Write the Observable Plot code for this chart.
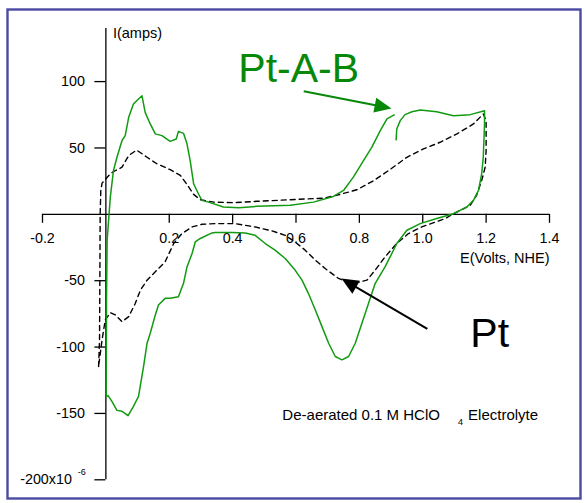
<!DOCTYPE html>
<html>
<head>
<meta charset="utf-8">
<script src="https://cdn.jsdelivr.net/npm/d3@7"></script>
<script src="https://cdn.jsdelivr.net/npm/@observablehq/plot@0.6"></script>
<style>
  html, body { margin: 0; padding: 0; background: #fff; }
</style>
</head>
<body>
<div id="chart"></div>
<script>
// Cyclic voltammograms (current in µA vs potential in V vs NHE)
// Pt-A-B electrode (solid green); NaN marks the break in the trace
const ptabE = [0.001, 0.002, 0.004, 0.014, 0.024, 0.035, 0.051, 0.061, 0.072, 0.087, 0.103, 0.114, 0.124, 0.140, 0.156, 0.177, 0.203, 0.222, 0.229, 0.245, 0.256, 0.266, 0.277, 0.292, 0.303, 0.329, 0.371, 0.420, 0.477, 0.582, 0.655, 0.718, 0.750, 0.781, 0.813, 0.839, 0.866, 0.887, 0.910, NaN,
  0.916, 0.918, 0.929, 0.944, 0.966, 0.992, 1.044, 1.097, 1.150, 1.195, 1.195, 1.191, 1.186, 1.176, 1.160, 1.139, 1.097, 1.044, 0.992, 0.950, 0.918, 0.897, 0.881, 0.850, 0.829, 0.808, 0.787, 0.766, 0.745, 0.724, 0.703, 0.682, 0.661, 0.639, 0.619, 0.597, 0.566, 0.534, 0.503, 0.471, 0.440, 0.398, 0.345, 0.335, 0.298, 0.282, 0.272, 0.256, 0.245, 0.229, 0.203, 0.187, 0.166, 0.156, 0.140, 0.130, 0.119, 0.103, 0.087, 0.070, 0.051, 0.035, 0.019, 0.007, 0.001];
const ptabI = [-137.2, -64, -19.5, 13.0, 33.0, 43.0, 55.6, 59.3, 73.1, 83.1, 86.9, 89.3, 76.8, 68.1, 60.6, 59.3, 55.0, 56.8, 62.5, 61.0, 53.1, 40.5, 23.0, 15.5, 10.5, 8.8, 5.5, 5.0, 6.0, 6.8, 9.2, 13.5, 18.0, 28.0, 40.5, 50.5, 63.1, 71.9, 74.9, NaN,
  56.1, 64.3, 70.6, 75.1, 77.3, 78.6, 77.3, 74.3, 75.1, 78.1, 68.1, 43.0, 30.6, 18.0, 10.5, 5.5, 0.5, -3.2, -7.0, -12.0, -22.0, -32.1, -39.6, -52.0, -67.0, -82.1, -97.1, -107.1, -109.6, -107.1, -97.1, -84.6, -72.1, -59.5, -49.6, -42.0, -33.3, -27.0, -22.0, -15.8, -14.0, -13.7, -13.7, -14.0, -18.2, -20.8, -29.5, -39.6, -52.0, -62.1, -63.3, -63.3, -68.3, -75.8, -89.6, -97.1, -114.6, -137.2, -144.7, -151.7, -148.4, -147.7, -140.9, -136.6, -137.2];

// Pt electrode (dashed black)
const ptE = [-0.023, -0.020, -0.019, -0.018, -0.016, -0.012, 0.014, 0.030, 0.051, 0.072, 0.097, 0.130, 0.161, 0.203, 0.235, 0.256, 0.277, 0.298, 0.340, 0.403, 0.477, 0.582, 0.687, 0.739, 0.792, 0.844, 0.897, 0.950, 1.002, 1.055, 1.108, 1.160, 1.191, 1.200, 1.200, 1.197, 1.186, 1.170, 1.150, 1.097, 1.071, 0.997, 0.955, 0.918, 0.881, 0.850, 0.824, 0.787, 0.755, 0.734, 0.692, 0.661, 0.629, 0.597, 0.566, 0.524, 0.471, 0.408, 0.345, 0.303, 0.272, 0.240, 0.214, 0.187, 0.156, 0.130, 0.109, 0.093, 0.072, 0.051, 0.030, 0.014, -0.002, -0.012, -0.023];
const ptI = [-114.6, -94.6, -49.6, 0, 18.0, 23.5, 30.6, 33.0, 35.5, 44.3, 48.4, 43.0, 38.1, 33.6, 29.3, 22.5, 15.0, 11.0, 9.2, 8.8, 9.8, 11.0, 12.2, 15.0, 18.5, 25.2, 33.8, 43.0, 49.3, 54.3, 60.6, 68.1, 75.6, 70.6, 48.1, 35.5, 25.5, 14.3, 6.8, 0.5, -3.2, -9.5, -14.5, -22.0, -32.1, -42.0, -49.6, -51.8, -50.3, -48.3, -40.8, -34.5, -27.0, -20.8, -15.8, -12.5, -9.5, -7.0, -7.0, -7.5, -9.5, -14.5, -22.0, -35.8, -43.3, -49.6, -57.1, -67.0, -77.1, -80.9, -75.8, -74.1, -79.6, -94.6, -114.6];

// Axis ticks and their labels
const xTicks = [-0.2, 0.2, 0.4, 0.6, 0.8, 1.0, 1.2, 1.4];
const xTickLabels = ["-0.2", "0.2", "0.4", "0.6", "0.8", "1.0", "1.2", "1.4"];
const yTicks = [100, 50, -50, -100, -150, -200];
const yTickLabels = ["100", "50", "-50", "-100", "-150", "-200x10"];

const ptab = ptabE.map((e, i) => ({E: e, I: ptabI[i]}));
const pt = ptE.map((e, i) => ({E: e, I: ptI[i]}));

const green = "#129a12";
const darkGreen = "#088808";

// Straight arrow with a filled triangular head, positioned in data space
function headedArrow(a, color) {
  return (index, scales) => {
    const x1 = scales.x(a.x1), y1 = scales.y(a.y1);
    const x2 = scales.x(a.x2), y2 = scales.y(a.y2);
    const ang = Math.atan2(y2 - y1, x2 - x1);
    const L = 17, W = 7.5;
    const c = Math.cos(ang), s = Math.sin(ang);
    const bx = x2 - L * c, by = y2 - L * s;
    const g = d3.create("svg:g");
    g.append("line")
      .attr("x1", x1).attr("y1", y1).attr("x2", bx + 2 * c).attr("y2", by + 2 * s)
      .attr("stroke", color).attr("stroke-width", 2);
    g.append("path")
      .attr("d", `M${x2},${y2}L${bx - W * s},${by + W * c}L${bx + W * s},${by - W * c}Z`)
      .attr("fill", color);
    return g.node();
  };
}

const yMain = yTicks.filter(d => d !== -200);

const chart = Plot.plot({
  width: 585,
  height: 503,
  marginTop: 9,
  marginLeft: 7,
  marginRight: 5,
  marginBottom: 5,
  style: {fontFamily: "'Liberation Sans', Arial, sans-serif", fontSize: "14px", background: "#fff", color: "#000"},
  x: {domain: [-0.2, 1.4], range: [42, 549], axis: null},
  y: {domain: [-200, 140], range: [479.3, 28], axis: null},
  marks: [
    Plot.frame({stroke: "#4a4aa4", strokeWidth: 2.4}),
    // axes crossing at the origin
    Plot.ruleY([0], {x1: -0.2, x2: 1.4, stroke: "#000", strokeWidth: 1.3}),
    Plot.ruleX([0], {y1: -200, y2: 140, stroke: "#000", strokeWidth: 1.3}),
    Plot.ruleX(xTicks, {x: d => d, y1: 0, y2: 0, insetBottom: -9, stroke: "#000", strokeWidth: 1.3}),
    Plot.ruleY(yTicks, {y: d => d, x1: 0, x2: 0, insetLeft: -11, stroke: "#000", strokeWidth: 1.3}),
    Plot.text(xTicks, {x: d => d, y: 0, text: (d, i) => xTickLabels[i], dy: 24, fontSize: 14.3}),
    Plot.text(yMain, {x: 0, y: d => d, text: d => yTickLabels[yTicks.indexOf(d)], textAnchor: "end", dx: -21, fontSize: 14.3}),
    Plot.text([-200], {x: 0, y: d => d, text: d => yTickLabels[yTicks.indexOf(d)], textAnchor: "end", dx: -34, fontSize: 14.3}),
    Plot.text([-200], {x: 0, y: d => d, text: () => "-6", textAnchor: "end", dx: -20, dy: -8, fontSize: 9}),
    Plot.text(["I(amps)"], {x: 0, y: 140, text: d => d, textAnchor: "start", dx: 7, dy: 5, fontSize: 14.5}),
    Plot.text(["E(Volts, NHE)"], {x: 1.4, y: 0, text: d => d, textAnchor: "end", dy: 44, fontSize: 14.5}),
    // voltammograms
    Plot.line(pt, {x: "E", y: "I", stroke: "#000", strokeWidth: 1.4, strokeDasharray: "5,4"}),
    Plot.line(ptab, {x: "E", y: "I", stroke: green, strokeWidth: 1.5}),
    // annotations
    headedArrow({x1: 0.626, y1: 92.3, x2: 0.903, y2: 79.4}, darkGreen),
    headedArrow({x1: 1.016, y1: -86.6, x2: 0.745, y2: -48.8}, "#000"),
    Plot.text(["Pt-A-B"], {x: 0.418, y: 100, text: d => d, textAnchor: "start", lineAnchor: "bottom", fontSize: 41, fill: darkGreen}),
    Plot.text(["Pt"], {x: 1.150, y: -100, text: d => d, textAnchor: "start", lineAnchor: "bottom", fontSize: 41, fill: "#000"}),
    Plot.text(["De-aerated 0.1 M HClO"], {x: 0.557, y: -154.7, text: d => d, textAnchor: "start", lineAnchor: "bottom", fontSize: 15}),
    Plot.text(["4"], {x: 1.111, y: -158.5, text: d => d, textAnchor: "start", lineAnchor: "bottom", fontSize: 9}),
    Plot.text(["Electrolyte"], {x: 1.143, y: -154.7, text: d => d, textAnchor: "start", lineAnchor: "bottom", fontSize: 15})
  ]
});

document.getElementById("chart").appendChild(chart);
</script>
</body>
</html>
